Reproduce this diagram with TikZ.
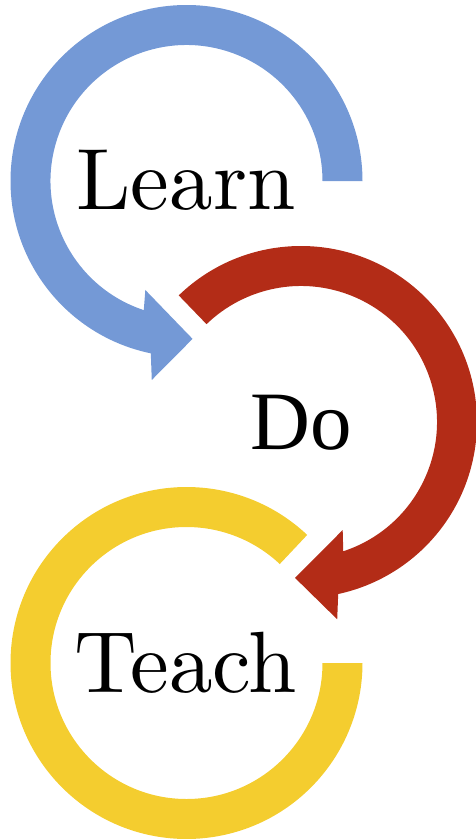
\documentclass[tikz,border=0pt]{standalone}
\usetikzlibrary{calc}
\definecolor{learnblue}{HTML}{7499D6}
\definecolor{dored}{HTML}{B32C17}
\definecolor{teachyellow}{HTML}{F4CD2F}
% Latin Modern Roman at its 10pt design size, scaled up
\font\wordfont="[lmroman10-regular.otf]" at 87pt
\font\dofont="Liberation Serif" at 83pt
\begin{document}
\begin{tikzpicture}[x=1pt,y=1pt,
  word/.style={inner sep=0pt,anchor=base,font=\wordfont}]
\useasboundingbox (0,0) rectangle (476,-839);
% ring centres
\coordinate (cb) at (186.5,-181);
\coordinate (cr) at (301,-422);
\coordinate (cy) at (186.5,-663);
% Learn: blue ring with arrowhead at the bottom
\fill[learnblue] ($(cb)+(0:176pt)$) arc[start angle=0,end angle=258.3,radius=176pt]
  -- ($(cb)+(260.1:202pt)$) -- ($(cb)+(272.2:158pt)$) -- ($(cb)+(249.3:116.5pt)$)
  -- ($(cb)+(251.7:136pt)$) arc[start angle=251.7,end angle=0,radius=136pt] -- cycle;
% Do: red ring with arrowhead at the bottom
\fill[dored] ($(cr)+(134:176pt)$) arc[start angle=134,end angle=-77.8,radius=176pt]
  -- ($(cr)+(-79.6:200.6pt)$) -- ($(cr)+(-92.2:156pt)$) -- ($(cr)+(-68.9:115.8pt)$)
  -- ($(cr)+(-71.9:136pt)$) arc[start angle=-71.9,end angle=134,radius=136pt] -- cycle;
% Teach: yellow ring, open at the upper right
\fill[teachyellow] ($(cy)+(46.7:176pt)$) arc[start angle=46.7,end angle=360,radius=176pt]
  -- ($(cy)+(0:136pt)$) arc[start angle=360,end angle=46.7,radius=136pt] -- cycle;
% labels
\node[word] (learn) at (186,-209) {Learn};
\node[word,font=\dofont] (do) at (301,-449) {Do};
\node[word] (teach) at (186,-692) {Teach};
\end{tikzpicture}
\end{document}
